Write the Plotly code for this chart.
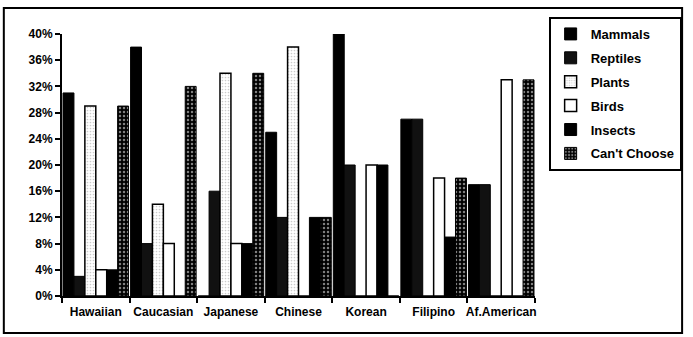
import plotly.graph_objects as go

groups = ['Hawaiian', 'Caucasian', 'Japanese', 'Chinese', 'Korean', 'Filipino', 'Af.American']
mammals = [31, 38, 0, 25, 40, 27, 17]
reptiles = [3, 8, 16, 12, 20, 27, 17]
plants = [29, 14, 34, 38, 0, 0, 0]
birds = [4, 8, 8, 0, 20, 18, 33]
insects = [4, 0, 8, 12, 20, 9, 0]
cant_choose = [29, 32, 34, 12, 0, 18, 33]
y_ticks = [0, 4, 8, 12, 16, 20, 24, 28, 32, 36, 40]
y_labels = [f'{v}%' for v in y_ticks]

font = dict(family='Liberation Sans, Arial, sans-serif', size=12, color='black', weight='bold')
line = dict(color='black', width=1)

fig = go.Figure()
fig.add_trace(go.Bar(name='Mammals', x=groups, y=mammals, legendgroup='a',
                     marker=dict(color='black', line=line)))
fig.add_trace(go.Bar(name='Reptiles', x=groups, y=reptiles, legendgroup='b',
                     marker=dict(color='#111', line=line)))
fig.add_trace(go.Bar(name='Plants', x=groups, y=plants, legendgroup='c',
                     marker=dict(color='white', line=dict(color='black', width=1.5),
                                 pattern=dict(shape='.', fgcolor='#999', bgcolor='white',
                                              size=3, solidity=0.25))))
fig.add_trace(go.Bar(name='Birds', x=groups, y=birds, legendgroup='d',
                     marker=dict(color='white', line=dict(color='black', width=1.5))))
fig.add_trace(go.Bar(name='Insects', x=groups, y=insects, legendgroup='e',
                     marker=dict(color='black', line=line)))
fig.add_trace(go.Bar(name="Can't Choose", x=groups, y=cant_choose, legendgroup='f',
                     marker=dict(color='black', line=line,
                                 pattern=dict(shape='.', fgcolor='white', bgcolor='black',
                                              size=4, solidity=0.3))))

fig.update_layout(
    width=693, height=337,
    margin=dict(l=62, r=152, t=34, b=41),
    paper_bgcolor='white', plot_bgcolor='white',
    barmode='group', bargap=0.03, bargroupgap=0,
    font=font,
    showlegend=True,
    legend=dict(x=1.31, y=1.065, xanchor='right', yanchor='top',
                bordercolor='black', borderwidth=2, bgcolor='white',
                font=dict(family='Liberation Sans, Arial, sans-serif', size=13,
                          color='black', weight='bold'),
                itemwidth=30, tracegroupgap=4),
    xaxis=dict(showline=True, linecolor='black', linewidth=2, ticks='outside',
               tickson='boundaries', ticklen=5, tickwidth=2, tickcolor='black',
               showgrid=False, tickfont=font, tickangle=0, automargin=False,
               ticklabelstandoff=4),
    yaxis=dict(range=[0, 40], tickmode='array', tickvals=y_ticks, ticktext=y_labels,
               showline=True, linecolor='black', linewidth=2, ticks='outside',
               ticklen=5, tickwidth=2, tickcolor='black', showgrid=False,
               zeroline=False, tickfont=font, automargin=False),
    shapes=[dict(type='rect', xref='paper', yref='paper',
                 x0=-0.123, x1=1.311, y0=-0.141, y1=1.099,
                 line=dict(color='black', width=2))],
)

fig.write_html('out.html', config={'displayModeBar': False},
               post_script="document.body.style.margin='0';")
